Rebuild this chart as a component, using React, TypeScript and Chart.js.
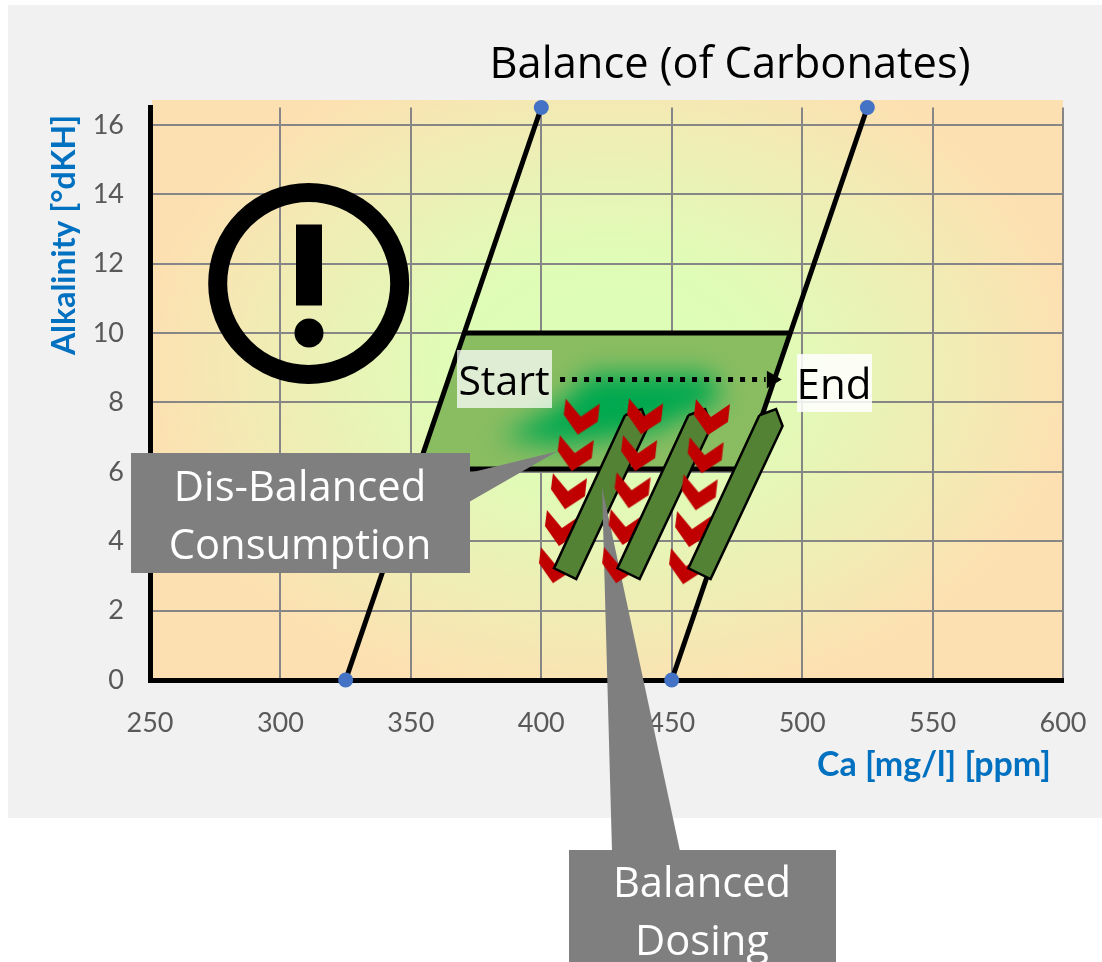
import React, { useEffect, useRef } from "react";
import { Chart, registerables } from "chart.js";

Chart.register(...registerables);

type P = { x: number; y: number };
const pts = (rows: number[][]): P[] => rows.map(([x, y]) => ({ x, y }));

const xTicks = [250, 300, 350, 400, 450, 500, 550, 600];
const yTicks = [0, 2, 4, 6, 8, 10, 12, 14, 16];

const leftLimit = [[325, 0], [400, 16.5]];
const rightLimit = [[450, 0], [525, 16.5]];
const band = [[370.5, 10], [495.5, 10], [477.6, 6.08], [352.6, 6.08], [370.5, 10]];
const bandTop = [[370.5, 10], [495.5, 10]];
const bandBottom = [[352.6, 6.08], [477.6, 6.08]];
const chevrons1 = [[415.5, 7.59], [413.2, 6.54], [410.6, 5.44], [408.3, 4.38], [406, 3.31]];
const chevrons2 = [[439.8, 7.6], [437.5, 6.54], [435, 5.47], [432.7, 4.41], [430.2, 3.31]];
const chevrons3 = [[465.4, 7.58], [463, 6.48], [460.7, 5.41], [458.2, 4.35], [455.9, 3.28]];
const dose1 = [[432.1, 7.63], [438.5, 7.81], [441, 7.32], [413.4, 2.91], [404.9, 3.22], [432.1, 7.63]];
const dose2 = [[456.4, 7.63], [462.8, 7.81], [465.3, 7.32], [437.7, 2.91], [429.2, 3.22], [456.4, 7.63]];
const dose3 = [[483.6, 7.63], [490, 7.81], [492.5, 7.32], [464.9, 2.91], [456.4, 3.22], [483.6, 7.63]];
const pathLine = [[407.2, 8.66], [486, 8.66]];
const pathHead = [[488.4, 8.66]];

const TITLE = "Balance (of Carbonates)";
const X_TITLE = "Ca [mg/l] [ppm]";
const Y_TITLE = "Alkalinity [°dKH]";
const SANS = '"Open Sans", sans-serif';
const CAL = 'Lato, sans-serif';

function makeChevron(): HTMLCanvasElement {
  const c = document.createElement("canvas");
  c.width = 40;
  c.height = 40;
  const g = c.getContext("2d")!;
  g.translate(20, 20);
  g.fillStyle = "#c00000";
  g.beginPath();
  [[-16, -18], [-1, 0], [18, -13], [16, 5], [-4, 18], [-18, -2]].forEach(([x, y], i) =>
    i ? g.lineTo(x, y) : g.moveTo(x, y)
  );
  g.closePath();
  g.fill();
  return c;
}

function poly(ctx: CanvasRenderingContext2D, rows: number[][]) {
  ctx.beginPath();
  rows.forEach(([x, y], i) => (i ? ctx.lineTo(x, y) : ctx.moveTo(x, y)));
  ctx.closePath();
}

function label(ctx: CanvasRenderingContext2D, s: string, x: number, y: number, font: string, color: string, align: CanvasTextAlign = "center") {
  ctx.font = font;
  ctx.fillStyle = color;
  ctx.textAlign = align;
  ctx.textBaseline = "middle";
  ctx.fillText(s, x, y);
}

const overlay = {
  id: "overlay",
  beforeDraw(chart: any) {
    const ctx: CanvasRenderingContext2D = chart.ctx;
    ctx.save();
    ctx.fillStyle = "#ffffff";
    ctx.fillRect(0, 0, 1102, 962);
    ctx.fillStyle = "#f1f1f1";
    ctx.fillRect(8, 5, 1094, 813);
    ctx.beginPath();
    ctx.rect(152, 100, 911, 580);
    ctx.clip();
    ctx.translate(608, 370);
    ctx.scale(1, 0.72);
    const g = ctx.createRadialGradient(0, 0, 0, 0, 0, 470);
    g.addColorStop(0, "#dcffb8");
    g.addColorStop(0.35, "#e0fcb7");
    g.addColorStop(0.68, "#eeeeb5");
    g.addColorStop(1, "#fde0b1");
    ctx.fillStyle = g;
    ctx.fillRect(-700, -700, 1400, 1400);
    ctx.restore();
  },
  afterDatasetDraw(chart: any, args: any) {
    const ctx: CanvasRenderingContext2D = chart.ctx;
    const name = chart.data.datasets[args.index].label;
    if (name === "band") {
      const sx = chart.scales.x, sy = chart.scales.y;
      ctx.save();
      poly(ctx, band.map(([x, y]) => [sx.getPixelForValue(x), sy.getPixelForValue(y)]));
      ctx.clip();
      ctx.filter = "blur(13px)";
      ctx.fillStyle = "#00a84f";
      poly(ctx, [[500, 438], [560, 405], [590, 374], [710, 374], [722, 400], [650, 432], [560, 445]]);
      ctx.fill();
      ctx.restore();
    }
    if (name === "dose1") {
      ctx.save();
      ctx.fillStyle = "#7f7f7f";
      poly(ctx, [[602, 487], [680, 851], [612, 851]]);
      ctx.fill();
      ctx.restore();
    }
  },
  afterDatasetsDraw(chart: any) {
    const ctx: CanvasRenderingContext2D = chart.ctx;
    ctx.save();
    // warning sign
    ctx.strokeStyle = "#000";
    ctx.lineWidth = 19;
    ctx.beginPath();
    ctx.arc(308.7, 283.5, 91, 0, Math.PI * 2);
    ctx.stroke();
    ctx.fillStyle = "#000";
    ctx.fillRect(296, 224.5, 26, 81);
    ctx.beginPath();
    ctx.arc(309, 333, 14.5, 0, Math.PI * 2);
    ctx.fill();
    // Start / End
    ctx.fillStyle = "rgba(255,255,255,0.72)";
    ctx.fillRect(457, 350, 95, 58);
    ctx.fillStyle = "rgba(255,255,255,0.86)";
    ctx.fillRect(797, 354, 75, 58);
    label(ctx, "Start", 504, 383, `41px ${SANS}`, "#000");
    label(ctx, "End", 834, 387, `42px ${SANS}`, "#000");
    // callouts
    ctx.fillStyle = "#7f7f7f";
    ctx.fillRect(131, 453, 339, 120);
    poly(ctx, [[469, 473], [557, 451.5], [469, 502]]);
    ctx.fill();
    ctx.fillRect(569, 850, 267, 112);
    label(ctx, "Dis-Balanced", 300, 489, `41.7px ${SANS}`, "#fff");
    label(ctx, "Consumption", 300, 547, `41.7px ${SANS}`, "#fff");
    label(ctx, "Balanced", 702, 885, `41.7px ${SANS}`, "#fff");
    label(ctx, "Dosing", 702, 943, `41.7px ${SANS}`, "#fff");
    // titles
    label(ctx, TITLE, 730, 66, `43.4px ${SANS}`, "#000");
    label(ctx, X_TITLE, 1051, 765, `bold 34px ${CAL}`, "#0070c0", "right");
    ctx.translate(65, 235);
    ctx.rotate(-Math.PI / 2);
    label(ctx, Y_TITLE, 0, 0, `bold 32px ${CAL}`, "#0070c0");
    ctx.restore();
  },
};

export default function App() {
  const ref = useRef<HTMLCanvasElement>(null);
  useEffect(() => {
    const chev = makeChevron();
    const shape = (name: string, rows: number[][], order: number, fillColor: string, border: string, width: number) => ({
      label: name,
      data: pts(rows),
      order,
      showLine: true,
      fill: "shape",
      backgroundColor: fillColor,
      borderColor: border,
      borderWidth: width,
      borderJoinStyle: "miter",
      pointRadius: 0,
      clip: false,
    });
    const line = (name: string, rows: number[][], order: number, dots: boolean) => ({
      label: name,
      data: pts(rows),
      order,
      showLine: true,
      fill: false,
      borderColor: "#000",
      borderWidth: 5,
      pointRadius: dots ? 7.5 : 0,
      pointBackgroundColor: "#4472c4",
      pointBorderWidth: 0,
      clip: false,
    });
    const marks = (name: string, rows: number[][], order: number) => ({
      label: name,
      data: pts(rows),
      order,
      showLine: false,
      pointStyle: chev,
      pointRadius: 15,
      clip: false,
    });
    const chart = new Chart(ref.current!, {
      type: "scatter",
      data: {
        datasets: [
          shape("band", band, 100, "#8abd62", "rgba(0,0,0,0)", 0),
          line("bandTop", bandTop, 99, false),
          line("bandBottom", bandBottom, 98, false),
          line("leftLimit", leftLimit, 97, true),
          line("rightLimit", rightLimit, 96, true),
          marks("chevrons1", chevrons1, 90),
          shape("dose1", dose1, 80, "#548235", "#000", 2.5),
          marks("chevrons2", chevrons2, 70),
          shape("dose2", dose2, 60, "#548235", "#000", 2.5),
          marks("chevrons3", chevrons3, 50),
          shape("dose3", dose3, 40, "#548235", "#000", 2.5),
          {
            label: "path",
            data: pts(pathLine),
            order: 30,
            showLine: true,
            fill: false,
            borderColor: "#000",
            borderWidth: 5,
            borderDash: [5, 7],
            pointRadius: 0,
            clip: false,
          },
          {
            label: "pathHead",
            data: pts(pathHead),
            order: 29,
            showLine: false,
            pointStyle: "triangle",
            rotation: 90,
            pointRadius: 10,
            pointBackgroundColor: "#000",
            pointBorderWidth: 0,
            clip: false,
          },
        ] as any,
      },
      options: {
        responsive: false,
        animation: false,
        events: [],
        layout: { padding: { left: 0, top: 107.5, right: 39, bottom: 0 } },
        plugins: { legend: { display: false }, tooltip: { enabled: false } },
        scales: {
          x: {
            type: "linear",
            min: xTicks[0],
            max: xTicks[xTicks.length - 1],
            afterFit: (s: any) => { s.height = 282; s.paddingLeft = 0; s.paddingRight = 0; },
            afterBuildTicks: (s: any) => { s.ticks = xTicks.map((value) => ({ value })); },
            border: { color: "#000", width: 5 },
            grid: { color: "#868686", lineWidth: 2, drawTicks: false },
            ticks: { color: "#595959", padding: 27, maxRotation: 0, font: { family: "Lato", size: 27 } },
          },
          y: {
            type: "linear",
            min: 0,
            max: 16.5,
            afterFit: (s: any) => { s.width = 150; s.paddingTop = 0; s.paddingBottom = 0; },
            afterBuildTicks: (s: any) => { s.ticks = yTicks.map((value) => ({ value })); },
            border: { color: "#000", width: 5 },
            grid: { color: "#868686", lineWidth: 2, drawTicks: false },
            ticks: { color: "#595959", padding: 26, font: { family: "Lato", size: 27 } },
          },
        },
      } as any,
      plugins: [overlay],
    });
    return () => chart.destroy();
  }, []);
  return (
    <canvas
      ref={ref}
      width={1102}
      height={962}
      style={{ position: "absolute", left: 0, top: 0, display: "block" }}
    />
  );
}
